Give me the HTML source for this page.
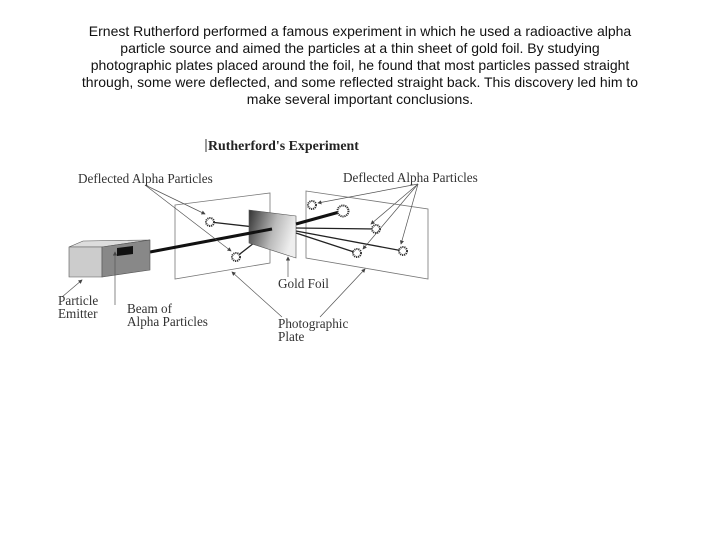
<!DOCTYPE html>
<html><head><meta charset="utf-8"><style>
body{margin:0;width:720px;height:540px;background:#fff;position:relative;overflow:hidden}
.p{position:absolute;left:0;width:720px;text-align:center;font-family:"Liberation Sans",sans-serif;font-size:14px;color:#111;line-height:17px;white-space:nowrap}
svg{position:absolute;left:0;top:0}
svg text{font-family:"Liberation Serif",serif;fill:#333}
</style></head><body>
<div class="p" style="top:23px">Ernest Rutherford performed a famous experiment in which he used a radioactive alpha</div>
<div class="p" style="top:40px">particle source and aimed the particles at a thin sheet of gold foil. By studying</div>
<div class="p" style="top:57px">photographic plates placed around the foil, he found that most particles passed straight</div>
<div class="p" style="top:74px">through, some were deflected, and some reflected straight back. This discovery led him to</div>
<div class="p" style="top:91px">make several important conclusions.</div>
<svg width="720" height="540" viewBox="0 0 720 540">
<defs>
<linearGradient id="g" x1="0" y1="0" x2="1" y2="0.3"><stop offset="0" stop-color="#333"/><stop offset="0.6" stop-color="#bbb"/><stop offset="1" stop-color="#eee"/></linearGradient>
<marker id="a" markerWidth="6" markerHeight="6" refX="5" refY="3" orient="auto"><path d="M0,0L6,3L0,6z" fill="#444"/></marker>
</defs>
<line x1="206" y1="139" x2="206" y2="152" stroke="#333" stroke-width="1"/>
<text x="208" y="150" font-size="13.9" font-weight="bold" style="fill:#222">Rutherford's Experiment</text>
<polygon points="175,205 270,193 270,263 175,279" fill="none" stroke="#777" stroke-width="0.8"/>
<polygon points="306,191 428,209 428,279 306,258" fill="none" stroke="#777" stroke-width="0.8"/>
<g stroke="#222" stroke-width="1.3">
<line x1="272" y1="229" x2="210" y2="222"/><line x1="272" y1="229" x2="236" y2="257"/>
</g>
<polygon points="249,210 296,216 296,258 249,243" fill="url(#g)" stroke="#555" stroke-width="0.6"/>
<g stroke="#222" stroke-width="1.3">
<line x1="296" y1="228" x2="376" y2="229"/><line x1="296" y1="233" x2="357" y2="253"/><line x1="296" y1="231" x2="403" y2="251"/>
</g>
<line x1="296" y1="224" x2="343" y2="211" stroke="#111" stroke-width="3"/>
<line x1="150" y1="252" x2="272" y2="229" stroke="#111" stroke-width="3"/>
<g fill="#fff" stroke="#333" stroke-width="2" stroke-dasharray="1.2 0.8">
<circle cx="210" cy="222" r="4"/><circle cx="236" cy="257" r="4"/><circle cx="312" cy="205" r="4"/><circle cx="343" cy="211" r="5.5"/><circle cx="376" cy="229" r="4"/><circle cx="357" cy="253" r="4"/><circle cx="403" cy="251" r="4"/>
</g>
<polygon points="69,247 83,241 150,240 102,247" fill="#ddd" stroke="#555" stroke-width="0.6"/>
<polygon points="69,247 102,247 102,277 69,277" fill="#ccc" stroke="#555" stroke-width="0.6"/>
<polygon points="102,247 150,240 150,270 102,277" fill="#888" stroke="#555" stroke-width="0.6"/>
<polygon points="117,248 133,246 133,254 117,256" fill="#111"/>
<g stroke="#555" stroke-width="0.7" fill="none" marker-end="url(#a)">
<line x1="145" y1="185" x2="205" y2="214"/><line x1="145" y1="185" x2="231" y2="251"/>
<line x1="418" y1="184" x2="318" y2="203"/><line x1="418" y1="184" x2="371" y2="224"/><line x1="418" y1="184" x2="363" y2="249"/><line x1="418" y1="184" x2="401" y2="244"/>
<line x1="288" y1="277" x2="288" y2="257"/>
<line x1="62" y1="297" x2="82" y2="280"/>
<line x1="115" y1="305" x2="115" y2="252"/>
<line x1="282" y1="317" x2="232" y2="272"/><line x1="320" y1="317" x2="365" y2="269"/>
</g>
<g font-size="13.2">
<text x="78" y="183">Deflected Alpha Particles</text>
<text x="343" y="182">Deflected Alpha Particles</text>
<text x="278" y="288">Gold Foil</text>
<text x="58" y="305">Particle</text><text x="58" y="318">Emitter</text>
<text x="127" y="313">Beam of</text><text x="127" y="326">Alpha Particles</text>
<text x="278" y="328">Photographic</text><text x="278" y="341">Plate</text>
</g>
</svg>
</body></html>
